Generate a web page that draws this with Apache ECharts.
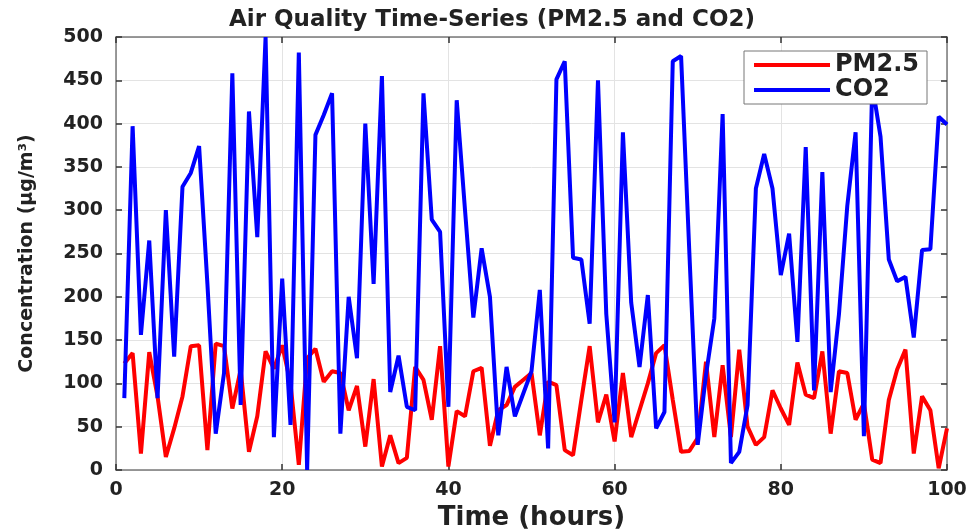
<!DOCTYPE html>
<html>
<head>
<meta charset="utf-8">
<script src="https://cdn.jsdelivr.net/npm/echarts@6/dist/echarts.min.js"></script>
<style>
    html, body { margin: 0; padding: 0; background: #fff; }
    #chart { width: 973px; height: 529px; }
</style>
</head>
<body>
<div id="chart"></div>
<script>
// 数据 (hours 1..100)
const pm25 = [
    123, 135, 19, 136, 85, 15, 48, 85, 143, 144,
    23, 146, 143, 71, 116, 21, 62, 137, 117, 144,
    100, 6, 129, 140, 102, 114, 112, 69, 97, 27,
    105, 4, 40, 8, 14, 119, 104, 58, 143, 4,
    68, 62, 114, 118, 28, 69, 75, 96, 104, 112,
    40, 102, 98, 23, 17, 81, 143, 55, 87, 33,
    112, 38, 69, 100, 135, 144, 81, 21, 22, 37,
    125, 38, 121, 38, 139, 50, 29, 38, 92, 71,
    52, 124, 87, 83, 137, 42, 114, 112, 58, 77,
    12, 8, 81, 116, 139, 19, 85, 69, 2, 48
];
const co2 = [
    83, 397, 156, 265, 83, 300, 131, 327, 343, 374,
    215, 42, 112, 458, 75, 414, 269, 500, 38, 221,
    52, 482, 0, 387, 410, 435, 42, 200, 129, 400,
    215, 455, 90, 132, 73, 69, 435, 289, 275, 73,
    427, 300, 176, 256, 200, 40, 119, 62, 88, 114,
    208, 25, 451, 472, 245, 243, 169, 450, 180, 55,
    390, 193, 119, 202, 48, 67, 472, 478, 250, 29,
    110, 175, 411, 8, 21, 75, 325, 365, 325, 225,
    273, 148, 373, 92, 344, 90, 180, 305, 390, 39,
    445, 385, 243, 218, 223, 153, 254, 255, 408, 399
];
const hours = pm25.map((_, i) => i + 1);

const FONT = '"DejaVu Sans", sans-serif';
const labelStyle = { fontFamily: FONT, fontWeight: 'bold', fontSize: 19, color: '#222' };

const chart = echarts.init(document.getElementById('chart'));

// 坐标轴 (bottom/left 有标签，top/right 只画刻度)
function axis(type, pos, show) {
    const isX = type === 'x';
    return {
        type: 'value',
        position: pos,
        min: 0,
        max: isX ? 100 : 500,
        interval: isX ? 20 : 50,
        axisLine: { show: true, onZero: false, lineStyle: { color: '#7a7a7a', width: 1.5 } },
        axisTick: { show: true, inside: true, length: 6, lineStyle: { color: '#333', width: 1.5 } },
        axisLabel: show ? Object.assign({ show: true, margin: isX ? 11 : 13 }, labelStyle) : { show: false },
        splitLine: { show: show, lineStyle: { color: '#e3e3e3', width: 1 } }
    };
}

const xMain = axis('x', 'bottom', true);
xMain.name = 'Time (hours)';
xMain.nameLocation = 'middle';
xMain.nameGap = 32;
xMain.nameTextStyle = { fontFamily: FONT, fontWeight: 'bold', fontSize: 26, color: '#222' };

const yMain = axis('y', 'left', true);
yMain.name = 'Concentration (μg/m³)';
yMain.nameLocation = 'middle';
yMain.nameGap = 79;
yMain.nameTextStyle = { fontFamily: FONT, fontWeight: 'bold', fontSize: 19, color: '#222' };

chart.setOption({
    animation: false,
    backgroundColor: '#fff',
    title: {
        text: 'Air Quality Time-Series (PM2.5 and CO2)',
        left: 487,
        textAlign: 'center',
        top: 4,
        textStyle: { fontFamily: FONT, fontWeight: 'bold', fontSize: 23, color: '#222' }
    },
    grid: { left: 116, right: 26, top: 37, bottom: 59, show: false, outerBoundsMode: 'none', containLabel: false },
    legend: {
        orient: 'vertical',
        right: 46,
        top: 51,
        padding: [2, 8, 2, 10],
        itemGap: 1,
        itemWidth: 76,
        itemHeight: 4,
        icon: 'rect',
        backgroundColor: '#fff',
        borderColor: '#777',
        borderWidth: 1,
        textStyle: { fontFamily: FONT, fontWeight: 'bold', fontSize: 24, color: '#222', lineHeight: 23 },
        data: ['PM2.5', 'CO2']
    },
    xAxis: [xMain, axis('x', 'top', false)],
    yAxis: [yMain, axis('y', 'right', false)],
    series: [
        {
            name: 'PM2.5',
            type: 'line',
            showSymbol: false,
            lineStyle: { color: '#ff0000', width: 4 },
            itemStyle: { color: '#ff0000' },
            data: hours.map((h, i) => [h, pm25[i]])
        },
        {
            name: 'CO2',
            type: 'line',
            showSymbol: false,
            lineStyle: { color: '#0000ff', width: 4 },
            itemStyle: { color: '#0000ff' },
            data: hours.map((h, i) => [h, co2[i]])
        }
    ]
});
</script>
</body>
</html>
